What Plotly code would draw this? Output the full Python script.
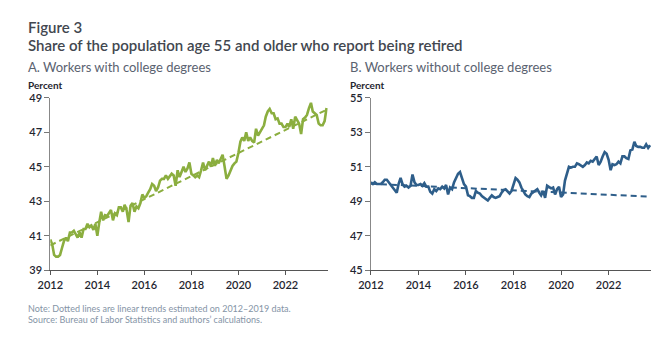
import pandas as pd
import plotly.graph_objects as go

dates = pd.date_range("2012-01-01", periods=142, freq="MS")

college = [
    40.8, 40.5, 39.9, 39.8, 39.8, 39.9, 40.3, 40.7, 40.9, 40.7, 41.2, 41.2,
    41.3, 41.1, 40.9, 41.2, 40.9, 41.4, 41.4, 41.7, 41.5, 41.6, 41.35, 41.7,
    41.0, 41.8, 42.4, 41.9, 42.2, 42.15, 42.3, 42.5, 41.9, 42.3, 42.2, 42.65,
    42.65, 42.4, 42.8, 42.5, 41.8, 42.75, 42.9, 42.4, 42.7, 42.6, 42.9, 43.4,
    43.2, 43.3, 43.5, 43.7, 44.0, 43.9, 43.6, 43.8, 44.2, 44.3, 44.3, 44.5,
    44.3, 44.5, 44.6, 44.5, 43.9, 44.8, 44.4, 44.7, 45.0, 44.7, 44.9, 45.25,
    44.6, 44.5, 44.4, 44.5, 44.4, 44.8, 45.25, 44.8, 45.05, 45.3, 45.0, 45.5,
    45.05, 45.4, 45.2, 45.5, 45.7, 45.0, 44.3, 44.5, 44.8, 45.05, 45.2, 45.3,
    45.8, 46.45, 46.7, 46.5, 47.0, 46.5, 46.7, 46.5, 46.4, 47.2, 46.8, 47.0,
    47.2, 47.4, 47.9, 48.2, 48.35, 48.1, 48.1, 47.75, 47.8, 47.5, 47.5, 47.3,
    47.3, 47.5, 47.3, 47.75, 47.2, 47.9, 47.7, 47.5, 46.9, 47.75, 47.85, 48.0,
    48.4, 48.7, 48.2, 48.1, 48.0, 47.5, 47.4, 47.4, 47.65, 48.4,
]

no_college = [
    50.1, 50.0, 50.1, 50.0, 50.0, 50.0, 50.1, 50.25, 50.25, 50.1, 49.9, 49.8,
    49.6, 49.5, 50.0, 50.35, 50.0, 49.85, 49.9, 49.8, 49.9, 50.55, 50.1, 49.95,
    49.95, 50.0, 49.9, 50.05, 49.85, 49.85, 49.55, 49.45, 49.7, 49.6, 49.75, 49.7,
    49.85, 49.75, 49.95, 49.4, 49.8, 49.7, 50.1, 50.35, 50.6, 50.7, 50.3, 50.0,
    49.85, 49.35, 49.3, 49.2, 49.2, 49.6, 49.5, 49.45, 49.3, 49.2, 49.1, 49.05,
    49.2, 49.35, 49.25, 49.2, 49.25, 49.3, 49.5, 49.65, 49.7, 49.55, 49.45, 49.6,
    50.0, 50.35, 50.25, 50.1, 49.8, 49.55, 49.4, 49.3, 49.25, 49.45, 49.55, 49.6,
    49.7, 49.5, 49.35, 49.6, 49.2, 49.9, 49.85, 49.75, 49.8, 49.4, 49.7, 49.85,
    49.25, 49.4, 50.2, 50.7, 51.0, 50.95, 51.0, 51.0, 51.2, 51.15, 51.05, 51.0,
    51.1, 51.25, 51.2, 51.35, 51.3, 51.45, 51.6, 51.1, 51.3, 51.6, 51.85, 51.75,
    51.4, 50.8, 51.15, 51.1, 51.15, 51.3, 51.2, 51.6, 51.6, 51.5, 51.45, 51.95,
    52.0, 52.45, 52.2, 52.15, 52.15, 52.1, 52.1, 52.3, 52.1, 52.25,
]

trend_dates = ["2012-01-01", "2023-10-01"]
trend_college = [40.45, 48.3]
trend_no_college = [50.02, 49.27]

GREEN = "#8BAE3F"
BLUE = "#2E5E8A"
FONT = "Lato"
TXT = "#42474f"

fig = go.Figure()
fig.add_trace(go.Scatter(x=trend_dates, y=trend_college, mode="lines",
                         line=dict(color=GREEN, width=2, dash="6px,4px"),
                         xaxis="x", yaxis="y", hoverinfo="skip"))
fig.add_trace(go.Scatter(x=dates, y=college, mode="lines",
                         line=dict(color=GREEN, width=2.6),
                         xaxis="x", yaxis="y"))
fig.add_trace(go.Scatter(x=trend_dates, y=trend_no_college, mode="lines",
                         line=dict(color=BLUE, width=2, dash="6px,4px"),
                         xaxis="x2", yaxis="y2", hoverinfo="skip"))
fig.add_trace(go.Scatter(x=dates, y=no_college, mode="lines",
                         line=dict(color=BLUE, width=2.6),
                         xaxis="x2", yaxis="y2"))

W, H = 670, 338
ydom = [1 - 274 / H, 1 - 94.3 / H]
xr = ["2012-01-01", "2023-10-20"]

tickfont = dict(family=FONT, size=11, color="#1f2630", weight=600)
xcommon = dict(range=xr, tickformat="%Y", dtick="M24", tick0="2012-01-01",
               ticks="outside", ticklen=4, tickcolor="#555", showline=True,
               linecolor="#555", linewidth=1, showgrid=False, zeroline=False,
               tickfont=tickfont)
ycommon = dict(ticks="outside", ticklen=5, tickcolor="#777", showline=True,
               linecolor="#888", linewidth=1, showgrid=False, zeroline=False,
               dtick=2, tickfont=tickfont)

fig.update_layout(
    width=W, height=H, margin=dict(l=0, r=0, t=0, b=0),
    paper_bgcolor="white", plot_bgcolor="white", showlegend=False,
    xaxis=dict(domain=[38 / W, 321 / W], anchor="y", **xcommon),
    yaxis=dict(domain=ydom, range=[39, 49], anchor="x", tick0=39, **ycommon),
    xaxis2=dict(domain=[365 / W, 651 / W], anchor="y2", **xcommon),
    yaxis2=dict(domain=ydom, range=[45, 55], anchor="x2", tick0=45, **ycommon),
)

def txt(x, y, s, size, color, weight=400):
    fig.add_annotation(x=x / W, y=1 - y / H, xref="paper", yref="paper",
                       text=s, showarrow=False,
                       xanchor="left", yanchor="middle",
                       font=dict(family=FONT, size=size, color=color, weight=weight))

txt(13, 21, "Figure 3", 15, TXT, 600)
txt(13, 40, "Share of the population age 55 and older who report being retired", 15, TXT, 600)
txt(13, 62, "A. Workers with college degrees", 13, "#5a6270")
txt(342, 62, "B. Workers without college degrees", 13, "#5a6270")
txt(13, 81, "Percent", 10, "#1f2630", 700)
txt(342, 81, "Percent", 10, "#1f2630", 700)
txt(13, 314, "Note: Dotted lines are linear trends estimated on 2012\u20132019 data.", 9, "#8594a6")
txt(13, 325, "Source: Bureau of Labor Statistics and authors\u2019 calculations.", 9, "#8594a6")

fig.write_html("out.html")
